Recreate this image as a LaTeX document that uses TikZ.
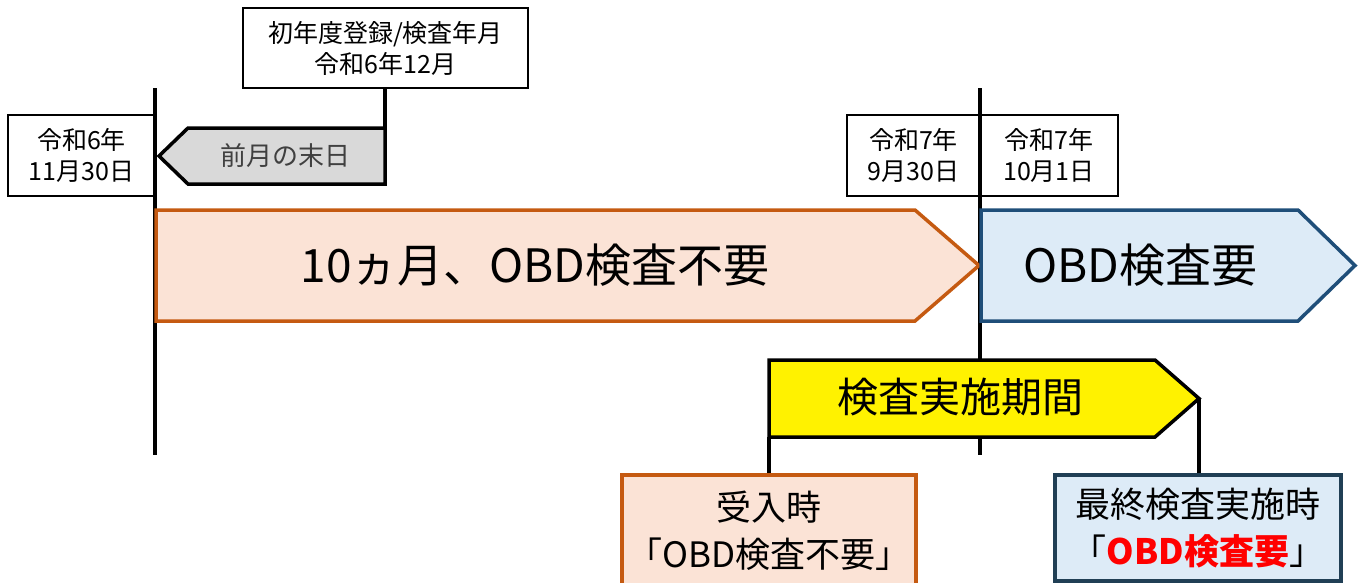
\documentclass[tikz,border=0pt]{standalone}
\usepackage{fontspec}
\setmainfont{Noto Sans CJK JP}
\usetikzlibrary{positioning}
\definecolor{orfill}{HTML}{FBE3D6}
\definecolor{ordraw}{HTML}{C55A11}
\definecolor{blfill}{HTML}{DDEBF7}
\definecolor{bldraw}{HTML}{1F4E79}
\definecolor{bldraw2}{HTML}{203F55}
\definecolor{grfill}{HTML}{D9D9D9}
\definecolor{txtgray}{HTML}{404040}
\tikzset{
  datebox/.style={draw=black, line width=1.8pt, fill=white, align=center, inner sep=0pt,
    font=\fontsize{25}{31}\selectfont},
  tl/.style={line width=4pt, black},
  conn/.style={line width=3.2pt, black},
  big/.style={font=\fontsize{46}{52}\selectfont},
  pent/.style={line width=3.5pt, line join=miter},
}
\begin{document}
\begin{tikzpicture}[x=1pt,y=-1pt]
\useasboundingbox (0,0) rectangle (1364,582);
% timeline verticals
\coordinate (L1) at (155,88); \coordinate (L2) at (155,455);
\coordinate (R1) at (980,88); \coordinate (R2) at (980,455);
% top box
\node[datebox, minimum width=285pt, minimum height=80pt] (top) at (385.5,48) {初年度登録/検査年月\\令和6年12月};
% grey arrow
\draw[pent, fill=grfill] (385,128) -- (188,128) -- (159,156) -- (188,184) -- (385,184) -- cycle;
\node[text=txtgray, font=\fontsize{26}{30}\selectfont] (prev) at (285,156) {前月の末日};
\draw[conn] (top.south -| 385,0) -- (385,129);
% date boxes
\node[datebox, minimum width=147pt, minimum height=81pt] (d1) at (81.5,155.5) {令和6年\\11月30日};
\node[datebox, minimum width=133pt, minimum height=81pt] (d2) at (913.5,155.5) {令和7年\\9月30日};
\node[datebox, minimum width=138pt, minimum height=81pt] (d3) at (1049,155.5) {令和7年\\10月1日};
\draw[tl] (L1) -- (L2);
\draw[tl] (R1) -- (R2);
% orange pentagon
\draw[pent, draw=ordraw, fill=orfill] (156,210) -- (915,210) -- (979,265.5) -- (915,321) -- (156,321) -- cycle;
\node[big] (nofree) at (535,265) {10ヵ月、OBD検査不要};
% blue pentagon
\draw[pent, draw=bldraw, fill=blfill] (981,210) -- (1298,210) -- (1355,265.5) -- (1298,321) -- (981,321) -- cycle;
\node[big] (need) at (1140,265) {OBD検査要};
% yellow pentagon
\draw[pent, draw=black, fill=yellow] (769,360) -- (1155,360) -- (1199,398.5) -- (1155,437) -- (769,437) -- cycle;
\node[font=\fontsize{41}{46}\selectfont] (period) at (960,397) {検査実施期間};
\coordinate (ystart) at (769,437);
\coordinate (ytip) at (1199,398.5);
% bottom boxes
\node[draw=ordraw, line width=3.5pt, fill=orfill, minimum width=294pt, minimum height=112pt, inner sep=0pt, align=center,
  font=\fontsize{35}{47}\selectfont] (recv) at (769,531) {受入時\\「OBD検査不要」};
\node[draw=bldraw2, line width=3.5pt, fill=blfill, minimum width=286pt, minimum height=106pt, inner sep=0pt, align=center,
  font=\fontsize{35}{47}\selectfont] (last) at (1198,528) {最終検査実施時\\「{\color{red}\bfseries OBD検査要}」};
\draw[conn] (ystart) -- (recv.north);
\draw[conn] (ytip) -- (ytip |- last.north);
\end{tikzpicture}
\end{document}
